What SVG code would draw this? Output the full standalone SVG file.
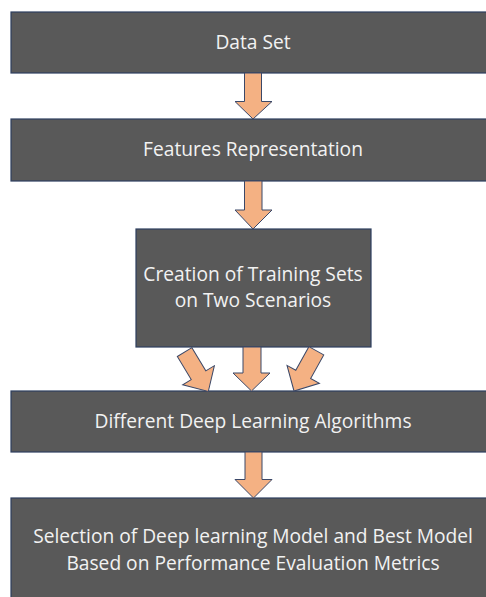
<svg xmlns="http://www.w3.org/2000/svg" width="486" height="597" viewBox="0 0 486 597">
<style>
.box{fill:#595959;stroke:#2e3f5f;stroke-width:1.2}
.lbl{font-family:"Open Sans","Noto Sans",sans-serif;font-size:19.2px;fill:#f2f2f2;text-anchor:middle}
.arr{fill:#f4b183;stroke:#3b4868;stroke-width:1;stroke-linejoin:miter}
</style>
<rect width="486" height="597" fill="#ffffff"/>
<g id="node-dataset">
<rect class="box" x="11" y="12" width="490" height="61"/>
<text class="lbl" x="253" y="49">Data Set</text>
</g>
<g id="node-features">
<rect class="box" x="11" y="119" width="490" height="62"/>
<text class="lbl" x="253" y="156">Features Representation</text>
</g>
<g id="node-training">
<rect class="box" x="136" y="229" width="235" height="118"/>
<text class="lbl" x="253" y="281">Creation of Training Sets</text>
<text class="lbl" x="253" y="307">on Two Scenarios</text>
</g>
<g id="node-algorithms">
<rect class="box" x="11" y="391" width="490" height="61"/>
<text class="lbl" x="253" y="428">Different Deep Learning Algorithms</text>
</g>
<g id="node-selection">
<rect class="box" x="11" y="498" width="490" height="110"/>
<text class="lbl" x="253" y="543">Selection of Deep learning Model and Best Model</text>
<text class="lbl" x="253" y="570">Based on Performance Evaluation Metrics</text>
</g>
<g id="connectors">
<polygon class="arr" points="244.5,73 261.5,73 261.5,101.5 272,101.5 253,119 235,101.5 244.5,101.5"/>
<polygon class="arr" points="244.5,181 262,181 262,210 272,210 253,229 235,210 244.5,210"/>
<polygon class="arr" points="243,347 261,347 261,373 270,373 251.5,391 233,373 243,373"/>
<polygon class="arr" transform="translate(208.3,391.5) rotate(-31)" points="-8.5,-46 8.5,-46 8.5,-19 18.5,-19 0,0 -18.5,-19 -8.5,-19"/>
<polygon class="arr" transform="translate(294,391) rotate(29)" points="-8.5,-46 8.5,-46 8.5,-19 18.5,-19 0,0 -18.5,-19 -8.5,-19"/>
<polygon class="arr" points="245,452 262,452 262,479.5 272,479.5 253.5,498 235,479.5 245,479.5"/>
</g>
</svg>
